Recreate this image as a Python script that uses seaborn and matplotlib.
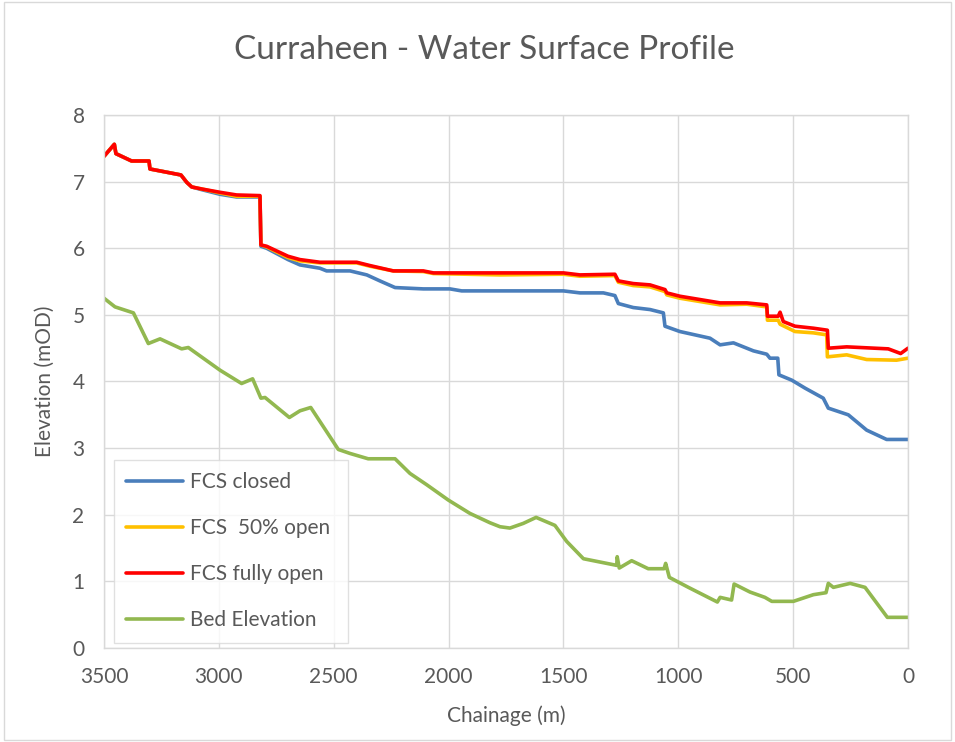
import numpy as np
import pandas as pd
import matplotlib
matplotlib.use('Agg')
import matplotlib.pyplot as plt
import seaborn as sns

# chainage (m) / elevation (mOD)
closed_x = [3500, 3455, 3448, 3380, 3304, 3300, 3165, 3140, 3118, 3075, 2995, 2923, 2821, 2817, 2792,
            2699, 2647, 2560, 2531, 2429, 2356, 2299, 2233, 2110, 1994, 1943, 1500, 1428, 1326, 1276,
            1261, 1196, 1123, 1065, 1058, 993, 862, 818, 760, 673, 615, 601, 567, 562, 506, 448, 369,
            347, 260, 180, 93, 0]
closed_y = [7.38, 7.56, 7.42, 7.31, 7.31, 7.19, 7.10, 6.99, 6.92, 6.88, 6.81, 6.77, 6.77, 6.03, 6.00,
            5.83, 5.75, 5.70, 5.66, 5.66, 5.60, 5.51, 5.41, 5.39, 5.39, 5.36, 5.36, 5.33, 5.33, 5.29,
            5.17, 5.11, 5.08, 5.03, 4.83, 4.75, 4.65, 4.55, 4.58, 4.46, 4.41, 4.35, 4.35, 4.10, 4.02,
            3.90, 3.75, 3.60, 3.50, 3.27, 3.13, 3.13]

half_x = [3500, 3455, 3448, 3380, 3304, 3300, 3165, 3140, 3118, 3075, 2995, 2923, 2821, 2817, 2792,
          2699, 2647, 2560, 2400, 2342, 2241, 2110, 2066, 1776, 1500, 1428, 1276, 1261, 1196, 1123,
          1058, 1050, 993, 818, 702, 615, 612, 565, 557, 492, 412, 354, 351, 267, 180, 50, 0]
half_y = [7.38, 7.56, 7.42, 7.31, 7.31, 7.19, 7.10, 6.99, 6.92, 6.89, 6.83, 6.78, 6.78, 6.05, 6.02,
          5.86, 5.81, 5.78, 5.78, 5.73, 5.66, 5.65, 5.62, 5.60, 5.61, 5.58, 5.59, 5.49, 5.44, 5.42,
          5.35, 5.30, 5.25, 5.15, 5.16, 5.12, 4.92, 4.92, 4.86, 4.75, 4.73, 4.70, 4.37, 4.40, 4.33,
          4.32, 4.35]

open_x = [3500, 3455, 3448, 3380, 3304, 3300, 3165, 3140, 3118, 3075, 2995, 2923, 2821, 2817, 2792,
          2699, 2647, 2560, 2400, 2342, 2241, 2110, 2066, 1500, 1428, 1276, 1261, 1196, 1123, 1058,
          1050, 993, 818, 702, 615, 612, 565, 557, 543, 492, 412, 351, 347, 267, 86, 32, 0]
open_y = [7.38, 7.56, 7.42, 7.31, 7.31, 7.19, 7.10, 6.99, 6.92, 6.89, 6.84, 6.80, 6.79, 6.05, 6.03,
          5.88, 5.83, 5.79, 5.79, 5.74, 5.66, 5.66, 5.63, 5.63, 5.60, 5.61, 5.51, 5.47, 5.45, 5.38,
          5.33, 5.28, 5.18, 5.18, 5.15, 4.98, 4.98, 5.04, 4.90, 4.83, 4.80, 4.77, 4.50, 4.52, 4.49,
          4.42, 4.50]

bed_x = [3500, 3452, 3372, 3307, 3256, 3162, 3133, 2995, 2901, 2853, 2817, 2799, 2693, 2647, 2600,
         2480, 2429, 2350, 2233, 2168, 2095, 2001, 1907, 1820, 1776, 1733, 1675, 1619, 1537, 1486,
         1413, 1268, 1266, 1257, 1203, 1131, 1062, 1055, 1039, 956, 830, 818, 768, 757, 688, 623,
         593, 499, 412, 357, 347, 325, 252, 187, 90, 0]
bed_y = [5.25, 5.12, 5.03, 4.57, 4.64, 4.49, 4.51, 4.17, 3.97, 4.04, 3.75, 3.76, 3.46, 3.56, 3.61,
         2.98, 2.92, 2.84, 2.84, 2.62, 2.45, 2.22, 2.02, 1.88, 1.82, 1.80, 1.87, 1.96, 1.84, 1.60,
         1.34, 1.24, 1.37, 1.20, 1.31, 1.19, 1.19, 1.27, 1.06, 0.91, 0.69, 0.76, 0.72, 0.96, 0.84,
         0.76, 0.70, 0.70, 0.80, 0.83, 0.97, 0.91, 0.97, 0.91, 0.46, 0.46]

series_names = ['FCS closed', 'FCS  50% open', 'FCS fully open', 'Bed Elevation']
series_colors = ['#4a7ebb', '#ffc000', '#ff0000', '#92b850']

sns.set_style('white')
plt.rcParams['font.family'] = ['Lato', 'DejaVu Sans']
txt = '#595959'

frames = []
for name, xs, ys in zip(series_names, [closed_x, half_x, open_x, bed_x],
                        [closed_y, half_y, open_y, bed_y]):
    frames.append(pd.DataFrame({'chainage': xs, 'elevation': ys, 'series': name}))
df = pd.concat(frames, ignore_index=True)

fig = plt.figure(figsize=(9.55, 7.42), dpi=100)
ax = fig.add_axes([0.1089, 0.1267, 0.8419, 0.7183])

sns.lineplot(data=df, x='chainage', y='elevation', hue='series', hue_order=series_names,
             palette=series_colors, sort=False, estimator=None, linewidth=2.6, ax=ax)

ax.set_xlim(3500, 0)
ax.set_ylim(0, 8)
ax.set_xticks(np.arange(0, 3501, 500))
ax.set_yticks(np.arange(0, 9, 1))
ax.grid(True, color='#d9d9d9', linewidth=1)
ax.set_axisbelow(True)
for s in ax.spines.values():
    s.set_color('#d9d9d9')
    s.set_linewidth(1)
ax.tick_params(length=0, labelsize=15, labelcolor=txt)
ax.tick_params(axis='x', pad=14)
ax.tick_params(axis='y', pad=14)

ax.set_xlabel('Chainage (m)', fontsize=15, color=txt, labelpad=13)
ax.set_ylabel('Elevation (mOD)', fontsize=15, color=txt, labelpad=13)

fig.text(0.507, 0.933, 'Curraheen - Water Surface Profile', fontsize=24, color=txt,
         ha='center', va='center')

ax.legend(loc='lower left', bbox_to_anchor=(0.0124, 0.0094, 0.291, 0.338), mode='expand',
          frameon=True, fancybox=False, edgecolor='#d9d9d9', fontsize=15, labelcolor=txt,
          handlelength=2.7, labelspacing=1.25, borderpad=0.6, handletextpad=0.35, borderaxespad=0)

fig.patches.append(plt.Rectangle((0.004, 0.003), 0.992, 0.994, transform=fig.transFigure,
                                 fill=False, edgecolor='#d9d9d9', linewidth=1))

fig.savefig('out.png', dpi=100)
